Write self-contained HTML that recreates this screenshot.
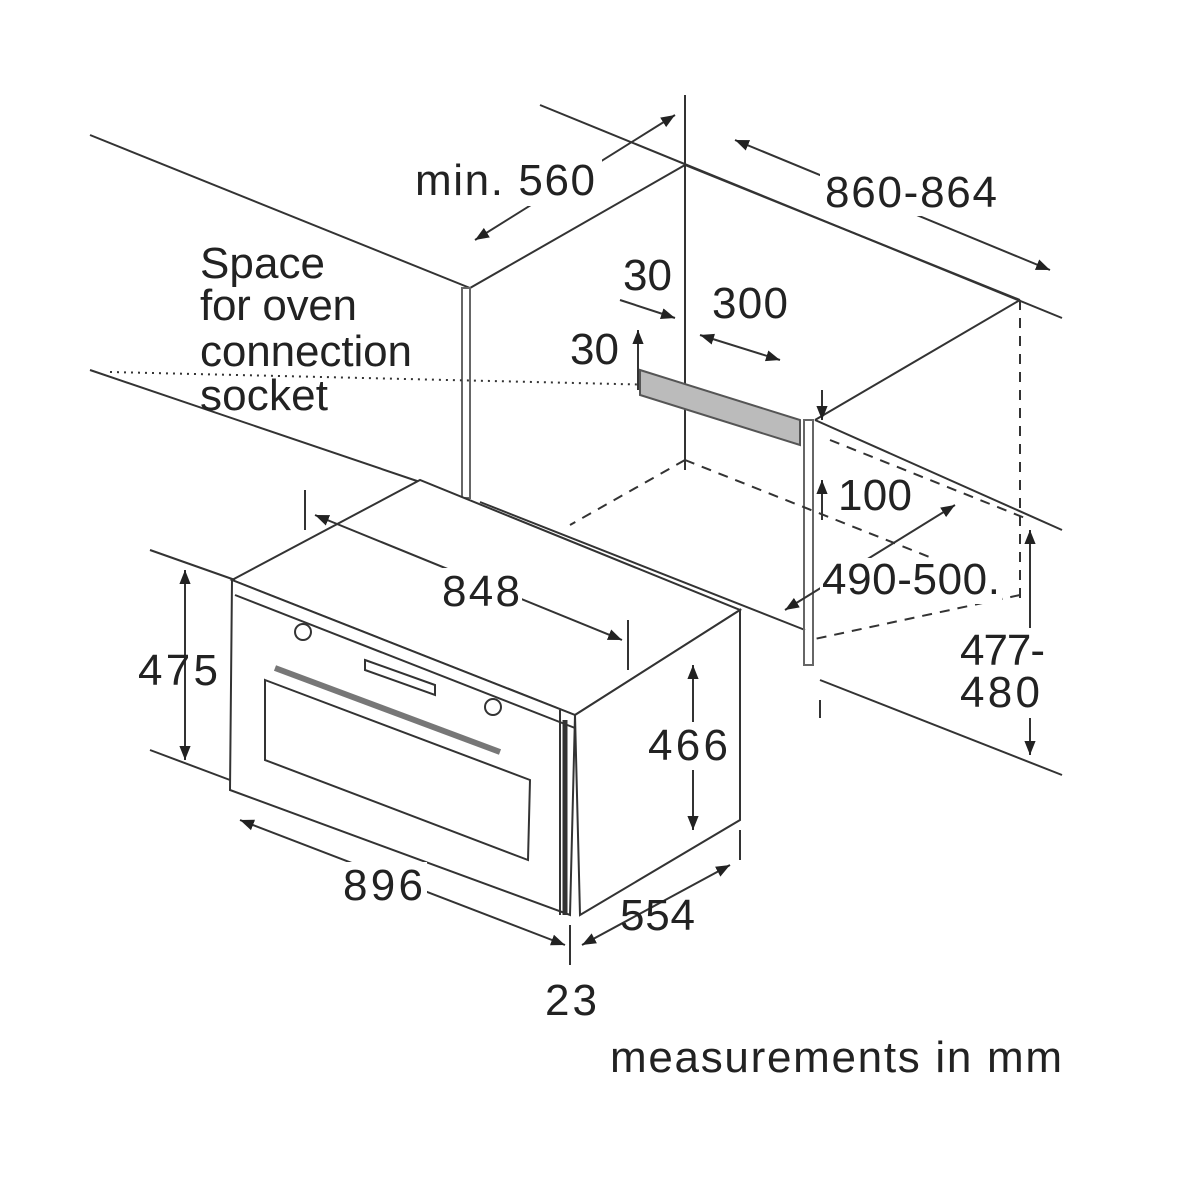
<!DOCTYPE html>
<html><head><style>html,body{margin:0;background:#fff}svg{display:block}</style></head><body>
<svg width="1200" height="1200" viewBox="0 0 1200 1200" xmlns="http://www.w3.org/2000/svg" font-family="Liberation Sans, sans-serif" font-size="44" fill="#222">
<defs>
<marker id="a" viewBox="0 0 10 10" refX="10" refY="5" markerWidth="7" markerHeight="7" orient="auto-start-reverse"><path d="M0,1 L10,5 L0,9 z" fill="#222"/></marker>
</defs>
<g stroke="#333" stroke-width="2" fill="none">
<line x1="90" y1="135" x2="470" y2="288"/>
<line x1="90" y1="370" x2="420" y2="482"/>
<line x1="480" y1="502" x2="805" y2="630"/>
<line x1="540" y1="105" x2="1062" y2="318"/>
<line x1="685" y1="95" x2="685" y2="470"/>
<line x1="470" y1="288" x2="685" y2="165"/>
<line x1="685" y1="165" x2="1020" y2="300"/>
<line x1="1020" y1="300" x2="815" y2="420"/>
<line x1="815" y1="420" x2="1062" y2="530"/>
<line x1="820" y1="680" x2="1062" y2="775"/>
<line x1="820" y1="700" x2="820" y2="718"/>
<rect x="462" y="288" width="8" height="210" stroke="#666" stroke-width="2"/>
<rect x="804" y="420" width="9" height="245" stroke="#666"/>
<g stroke-dasharray="10,8">
<line x1="1020" y1="300" x2="1020" y2="600"/>
<line x1="685" y1="460" x2="570" y2="525"/>
<line x1="685" y1="460" x2="1000" y2="585"/>
<line x1="1020" y1="595" x2="810" y2="640"/>
<line x1="830" y1="440" x2="1030" y2="520"/>
<line x1="685" y1="380" x2="685" y2="460"/>
</g>
<line x1="110" y1="372" x2="660" y2="385" stroke-dasharray="2,5"/>
<polygon points="640,370 800,420 800,445 640,395" fill="#bbb" stroke="#555"/>
<polygon points="232,580 420,480 740,610 575,715" fill="#fff"/>
<polygon points="232,580 575,715 570,915 230,790" fill="#fff"/>
<polygon points="575,715 740,610 740,820 580,915" fill="#fff"/>
<line x1="235" y1="595" x2="575" y2="728"/>
<line x1="560" y1="710" x2="560" y2="915"/>
<polygon points="265,680 530,780 528,860 265,760"/>
<line x1="275" y1="668" x2="500" y2="752" stroke-width="6" stroke="#777"/>
<polygon points="365,660 435,685 435,695 365,670"/>
<circle cx="303" cy="632" r="8"/><circle cx="493" cy="707" r="8"/>
<line x1="565" y1="720" x2="565" y2="915" stroke-width="5"/>
<g marker-start="url(#a)" marker-end="url(#a)">
<line x1="475" y1="240" x2="675" y2="115"/>
<line x1="735" y1="140" x2="1050" y2="270"/>
<line x1="185" y1="570" x2="185" y2="760"/>
<line x1="693" y1="665" x2="693" y2="830"/>
<line x1="1030" y1="530" x2="1030" y2="755"/>
<line x1="240" y1="820" x2="565" y2="945"/>
<line x1="582" y1="945" x2="730" y2="865"/>
<line x1="315" y1="515" x2="622" y2="640"/>
<line x1="700" y1="335" x2="780" y2="360"/>
<line x1="955" y1="505" x2="785" y2="610"/>
</g>
<line x1="620" y1="300" x2="675" y2="318" marker-end="url(#a)"/>
<line x1="638" y1="330" x2="638" y2="390" marker-start="url(#a)"/>
<line x1="822" y1="480" x2="822" y2="520" marker-start="url(#a)"/>
<line x1="822" y1="390" x2="822" y2="420" marker-end="url(#a)"/>
<line x1="150" y1="550" x2="235" y2="580"/>
<line x1="150" y1="750" x2="230" y2="780"/>
<line x1="305" y1="490" x2="305" y2="530"/>
<line x1="628" y1="620" x2="628" y2="670"/>
<line x1="570" y1="925" x2="570" y2="965"/>
<line x1="740" y1="830" x2="740" y2="860"/>
</g>
<g stroke="none">
<rect x="412" y="158" width="190" height="48" fill="#fff"/>
<text x="415" y="195" textLength="180">min. 560</text>
<rect x="820" y="168" width="180" height="48" fill="#fff"/>
<text x="825" y="207" textLength="172">860-864</text>
<text x="200" y="278" textLength="125">Space</text>
<text x="200" y="320" textLength="157">for oven</text>
<text x="200" y="366" textLength="212">connection</text>
<text x="200" y="410" textLength="128">socket</text>
<text x="623" y="290">30</text>
<text x="712" y="318" textLength="76">300</text>
<text x="570" y="364">30</text>
<text x="838" y="510" textLength="74">100</text>
<rect x="440" y="568" width="82" height="46" fill="#fff"/>
<text x="442" y="606" textLength="78">848</text>
<rect x="820" y="558" width="182" height="46" fill="#fff"/>
<text x="822" y="594" textLength="178">490-500.</text>
<text x="138" y="685" textLength="80">475</text>
<rect x="645" y="722" width="87" height="48" fill="#fff"/>
<text x="648" y="760" textLength="80">466</text>
<rect x="955" y="628" width="92" height="90" fill="#fff"/>
<text x="960" y="665" textLength="85">477-</text>
<text x="960" y="707" textLength="80">480</text>
<rect x="340" y="862" width="87" height="48" fill="#fff"/>
<text x="343" y="900" textLength="80">896</text>
<text x="620" y="930" textLength="75">554</text>
<text x="545" y="1015" textLength="52">23</text>
<text x="610" y="1072" textLength="452">measurements in mm</text>
</g>
</svg>
</body></html>
